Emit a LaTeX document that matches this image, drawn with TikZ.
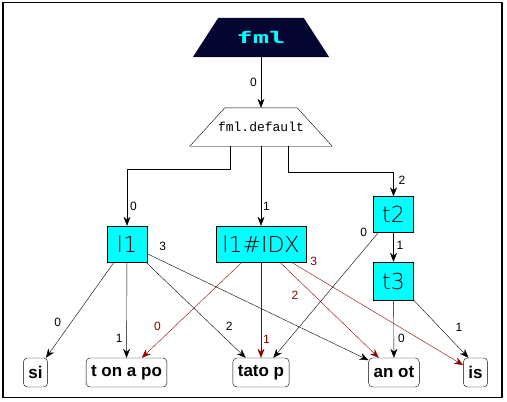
\documentclass[tikz,border=0pt]{standalone}
\usepackage{fontspec}
\setmainfont{Liberation Sans}
\newfontfamily\boxfont{DejaVu Sans ExtraLight}
\newfontfamily\fmlfont{DejaVu Sans Mono}
\newfontfamily\codefont{Liberation Mono}
\usetikzlibrary{arrows.meta}
\usetikzlibrary{shapes.geometric}
\definecolor{edgered}{RGB}{140,0,0}
\definecolor{fmlblue}{RGB}{5,5,50}
\definecolor{boxcyan}{RGB}{0,255,255}

\begin{document}
\begin{tikzpicture}[x=1pt, y=-1pt, >={Stealth[length=9pt, width=7pt]},
				   every node/.style={inner sep=0pt},
				   tbox/.style={rectangle, draw=black, fill=boxcyan, minimum width=40pt, minimum height=36pt, font=\boxfont\fontsize{22}{22}\selectfont},
				   leaf/.style={rectangle, rounded corners=4pt, draw=black, minimum height=29pt, inner xsep=5pt, font=\bfseries\fontsize{17}{17}\selectfont},
				   lbl/.style={inner sep=1pt, font=\fontsize{12}{12}\selectfont},
				   rlbl/.style={lbl, text=edgered},
				   redge/.style={draw=edgered, ->}]
\useasboundingbox (0,0) rectangle (507,402);
\draw[line width=1.3pt] (3,2.5) rectangle (502,397.5);

\node[minimum width=136pt, minimum height=39pt] (fml) at (261,37.5) {};
\fill[fmlblue] (fml.south west) -- ([xshift=25.5pt]fml.north west) -- ([xshift=-25.5pt]fml.north east) -- (fml.south east) -- cycle;
\node[text=boxcyan, font=\fmlfont\bfseries\fontsize{16}{16}\selectfont] (fmltext) at (fml) {\scalebox{1.7}[1]{fml}};
\node[minimum width=142pt, minimum height=38pt, font=\codefont\fontsize{13}{13}\selectfont] (fmldef) at (261,127) {fml.default};
\draw (fmldef.south west) -- ([xshift=35pt]fmldef.north west) -- ([xshift=-35pt]fmldef.north east) -- (fmldef.south east) -- cycle;

\node[tbox] (l1) at (127,244) {l1};
\node[tbox, minimum width=90pt] (l1idx) at (261,244) {l1\#IDX};
\node[tbox] (t2) at (393.5,214.5) {t2};
\node[tbox, minimum height=38pt] (t3) at (393.5,281) {t3};

\node[leaf] (si) at (35.5,372.5) {si};
\node[leaf] (tonapo) at (126.5,372.5) {t on a po};
\node[leaf] (tatop) at (261,372.5) {tato p};
\node[leaf] (anot) at (394,372.5) {an ot};
\node[leaf] (is) at (475.5,372.5) {is};

% top part
\draw[->] (fml) -- (fmldef) node[lbl, pos=0.49, left=3pt] {0};
\draw[->] ([xshift=-31pt]fmldef.south) -- ++(0,23) -| (l1) node[lbl, pos=0.83, right=2pt] {0};
\draw[->] (fmldef) -- (l1idx) node[lbl, pos=0.76, right=1pt] {1};
\draw[->] ([xshift=27pt]fmldef.south) -- ++(0,26) -| (t2) node[lbl, pos=0.67, right=4pt] {2};

% from l1
\draw[->] (l1) -- (si) node[lbl, pos=0.63, left=9pt] {0};
\draw[->] (l1) -- (tonapo) node[lbl, pos=0.8, left=3pt] {1};
\draw[->] (l1) -- (tatop) node[lbl, pos=0.67, right=12pt] {2};
\draw[->] (l1) -- (anot) node[lbl, pos=0.07, above=9pt] {3};

% from l1#IDX
\draw[redge] (l1idx) -- (tonapo) node[rlbl, pos=0.67, left=13pt] {0};
\draw[redge] (l1idx) -- (tatop) node[rlbl, pos=0.81, right=1pt] {1};
\draw[redge] (l1idx) -- (anot) node[rlbl, pos=0.35, left=15pt] {2};
\draw[redge] (l1idx) -- (is) node[rlbl, pos=0.13, above=9pt] {3};

% from t2 and t3
\draw[->] (t2) -- (tatop) node[lbl, pos=0, left=10pt] {0};
\draw[->] (t2) -- (t3) node[lbl, pos=0.45, right=2pt] {1};
\draw[->] (t3) -- (anot) node[lbl, pos=0.67, right=3pt] {0};
\draw[->] (t3.south east) -- ([xshift=-7pt]is.north) node[lbl, pos=0.47, right=15pt] {1};
\end{tikzpicture}
\end{document}
